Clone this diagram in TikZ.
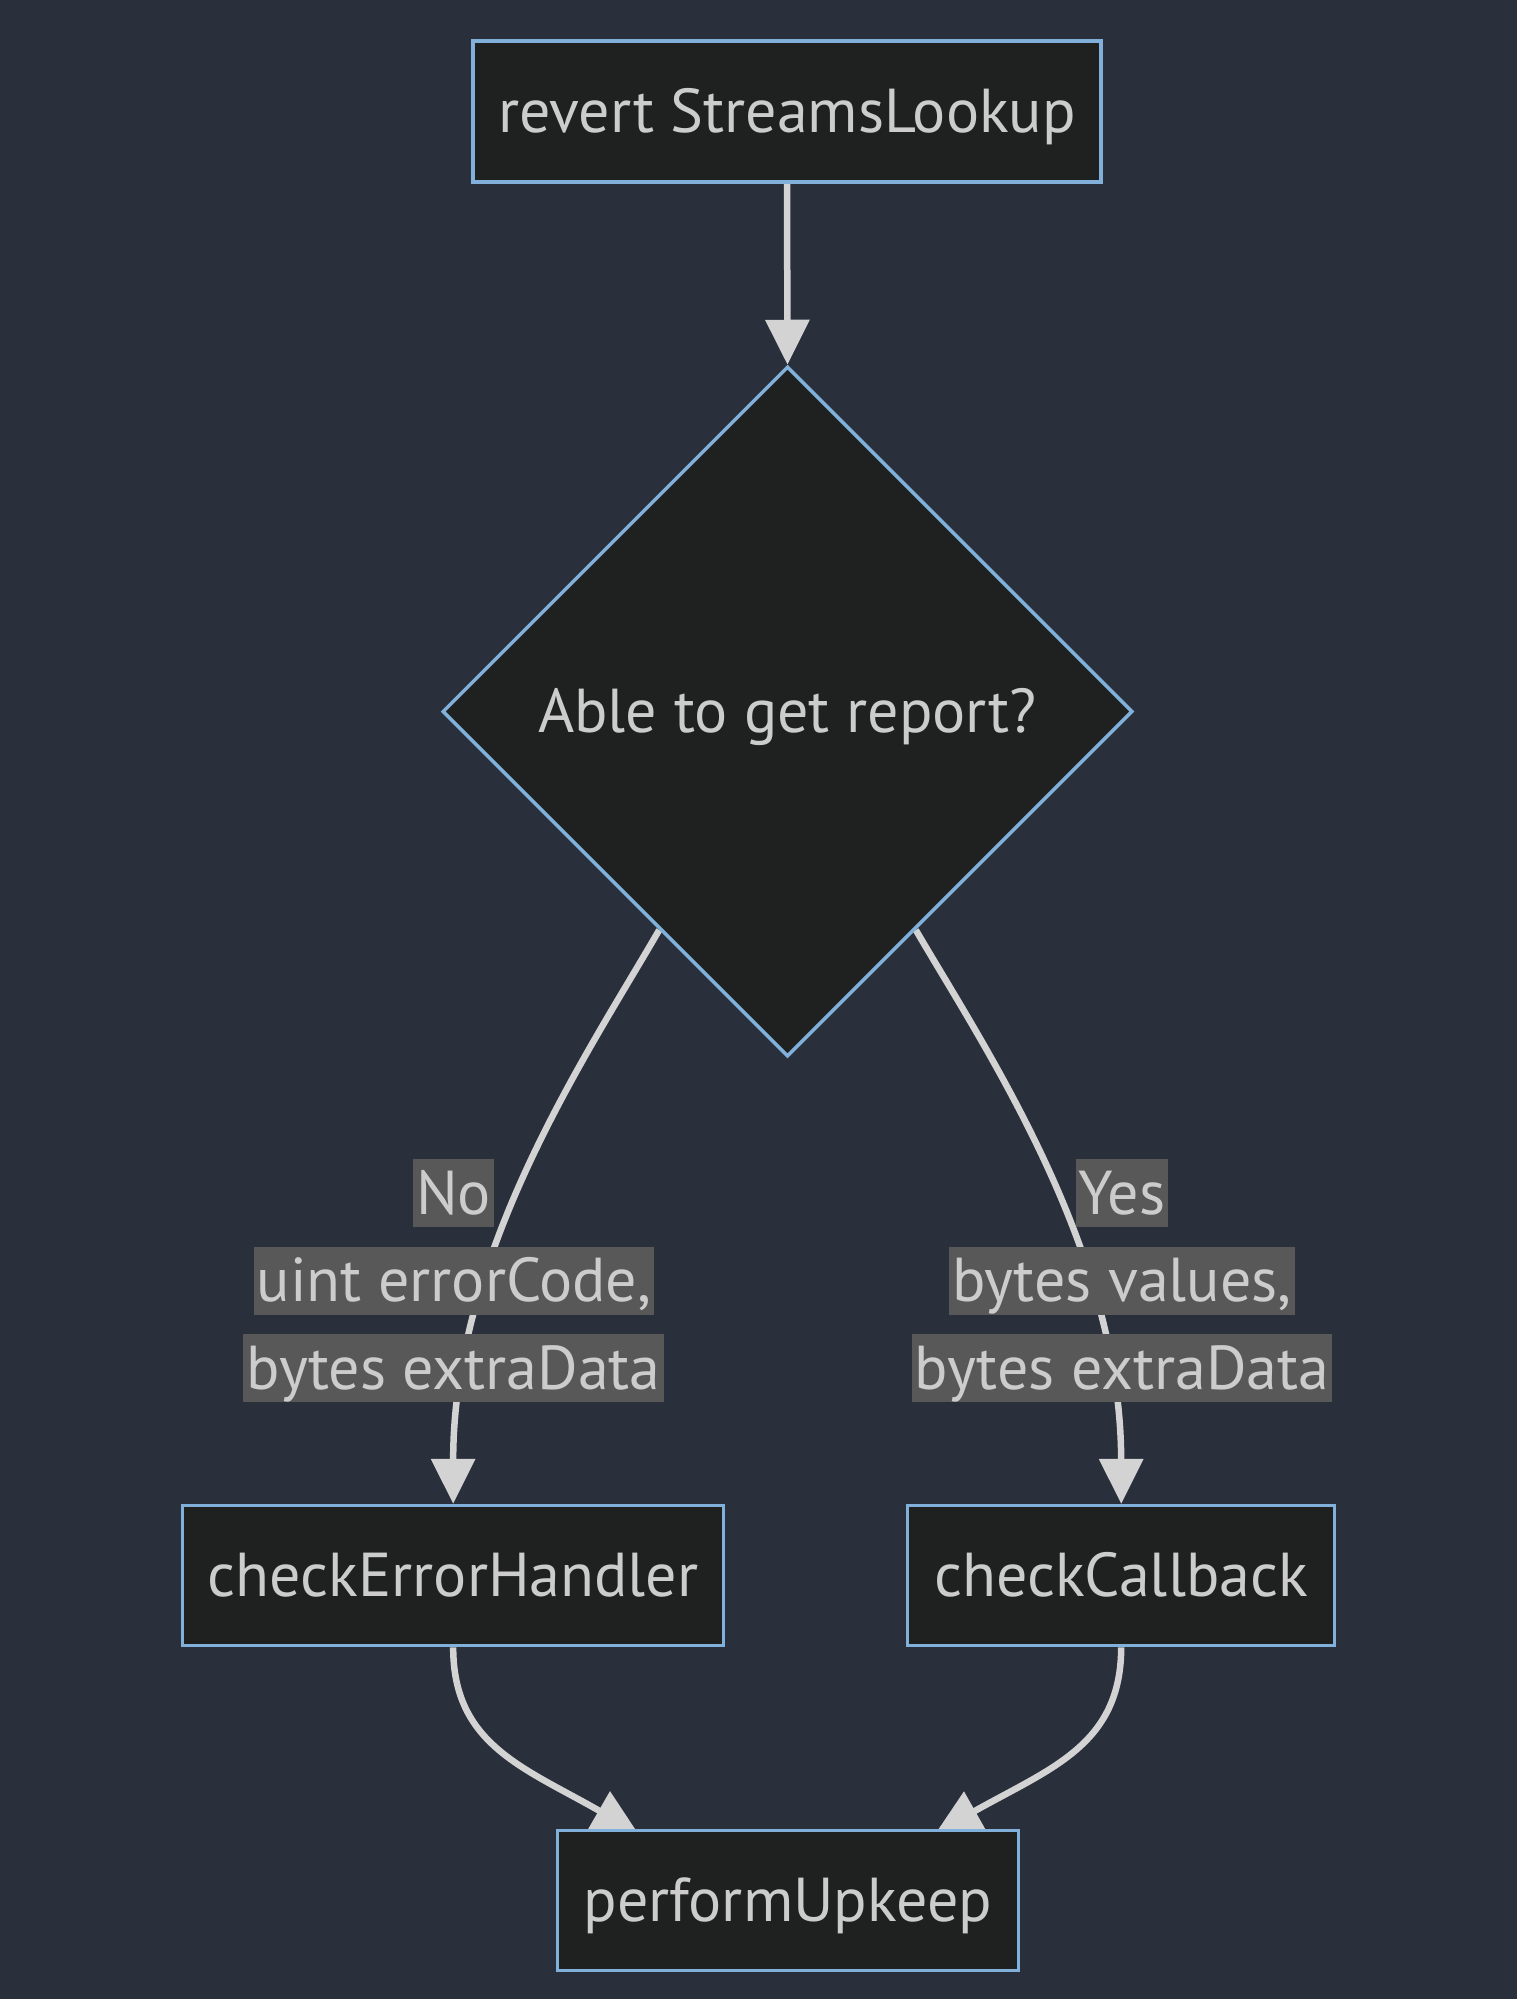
\documentclass[tikz,border=0pt]{standalone}
\usepackage{fontspec}
\setmainfont{PT Sans}
\usetikzlibrary{shapes.geometric,arrows.meta,calc}
\definecolor{bgc}{RGB}{42,47,60}
\definecolor{nodefill}{RGB}{31,32,32}
\definecolor{nodeborder}{RGB}{129,177,219}
\definecolor{edgec}{RGB}{211,211,211}
\definecolor{lblbg}{RGB}{88,88,88}
\definecolor{txt}{RGB}{204,204,204}
\pgfdeclarelayer{bglayer}
\pgfdeclarelayer{edgelayer}
\pgfsetlayers{bglayer,edgelayer,main}
\tikzset{
  txtstyle/.style={text=txt, font=\fontsize{62}{74}\selectfont, text height=54pt, text depth=12pt},
  box/.style={txtstyle, draw=nodeborder, fill=nodefill, line width=3.5pt, inner sep=0pt},
  dia/.style={txtstyle, diamond, draw=nodeborder, fill=nodefill, line width=3.5pt, inner sep=0pt,
    aspect=1},
  lbl/.style={txtstyle, fill=lblbg, inner xsep=3pt, inner ysep=0pt, minimum height=68pt},
  edge/.style={draw=edgec, line width=6.5pt, -{Triangle[length=45pt,width=43pt]}}
}
\begin{document}
\begin{tikzpicture}[x=1pt,y=-1pt]
\begin{pgfonlayer}{bglayer}
\fill[bgc] (0,0) rectangle (1517,1999);
\end{pgfonlayer}
\useasboundingbox (0,0) rectangle (1517,1999);

\node[box, minimum width=628pt, minimum height=141pt] (top) at (787,111.5) {revert StreamsLookup};
\node[dia, minimum width=690pt, minimum height=690pt] (dia) at (787.5,711.5) {Able to get report?};
\node[box, minimum width=541pt, minimum height=140pt] (ceh) at (453.2,1575.6) {checkErrorHandler};
\node[box, minimum width=427pt, minimum height=140pt] (ccb) at (1121.2,1575.6) {checkCallback};
\node[box, minimum width=461pt, minimum height=140pt] (pu) at (787.8,1900.7) {performUpkeep};

\node[lbl] (no) at (453.5,1193) {No};
\node[lbl] (lA) at (454,1280.5) {uint errorCode,};
\node[lbl] (lB) at (453.5,1368) {bytes extraData};
\node[lbl] (yes) at (1122,1193) {Yes};
\node[lbl] (rA) at (1122,1280.5) {bytes values,};
\node[lbl] (rB) at (1122,1368) {bytes extraData};

\coordinate (dl) at ($(dia.west)!0.63!(dia.south)$);
\coordinate (dr) at ($(dia.east)!0.63!(dia.south)$);
\coordinate (pul) at ($(pu.north)+(-150,4)$);
\coordinate (pur) at ($(pu.north)+(148,4)$);

\begin{pgfonlayer}{edgelayer}
\draw[edge] (top.south) -- (dia.north);
\draw[edge] (dl) .. controls (590,1050) and (453,1250) .. (ceh.north);
\draw[edge] (dr) .. controls (986,1050) and (1121,1250) .. (ccb.north);
\draw[edge] (ceh.south) .. controls (453,1745) and (525,1768) .. (pul);
\draw[edge] (ccb.south) .. controls (1121,1745) and (1051,1768) .. (pur);
\end{pgfonlayer}
\end{tikzpicture}
\end{document}
